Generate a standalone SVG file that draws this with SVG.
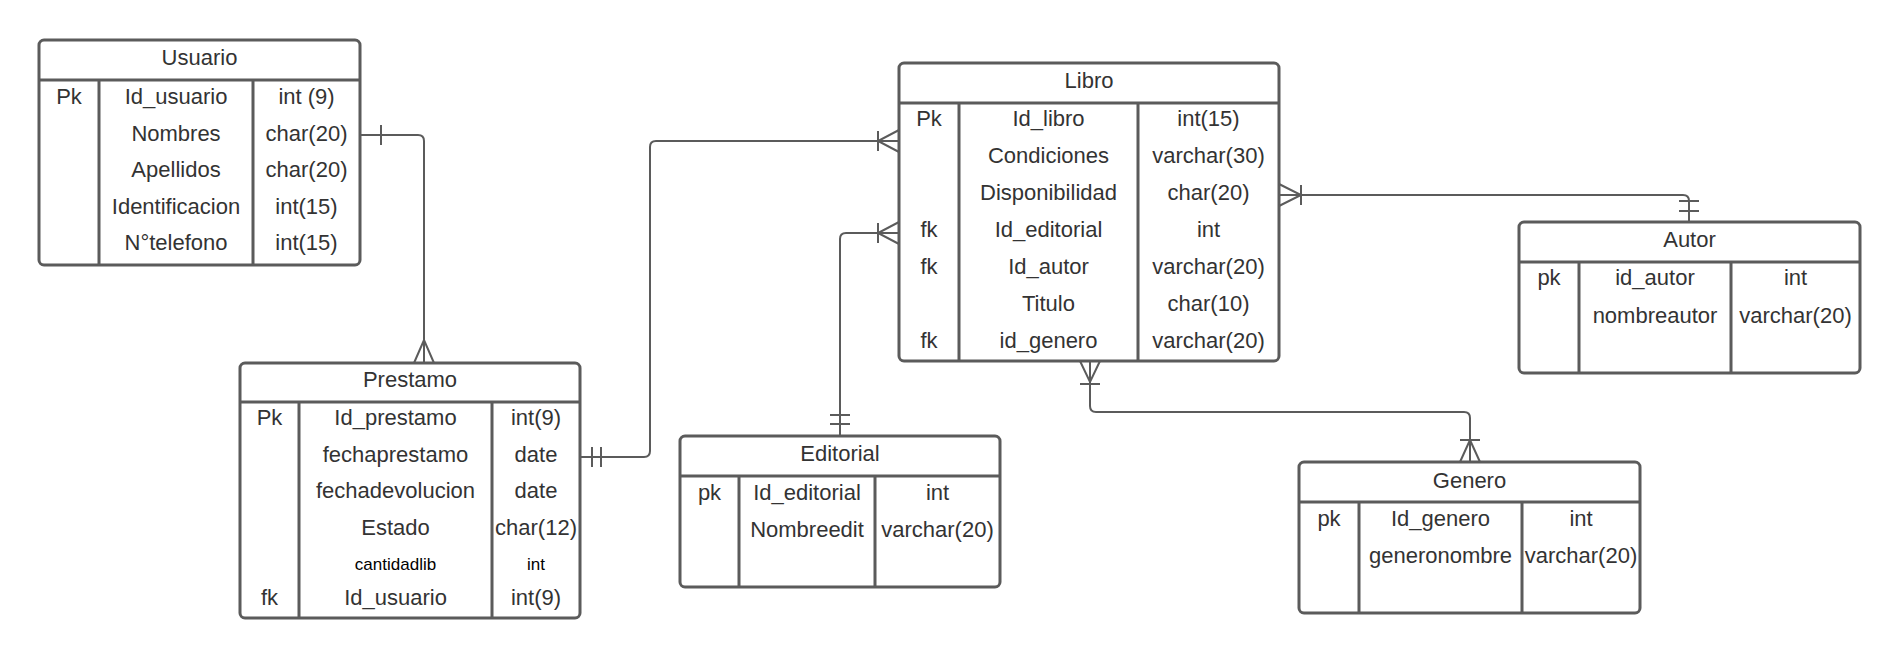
<svg xmlns="http://www.w3.org/2000/svg" width="1900" height="659" viewBox="0 0 1900 659">
<style>
.box{fill:#fff;stroke:#5b5b5b;stroke-width:3}
.ln{stroke:#5b5b5b;stroke-width:3;fill:none}
.t{font-family:"Liberation Sans",Arial,sans-serif;font-size:22px;fill:#333;text-anchor:middle}
.s{font-family:"Liberation Sans",Arial,sans-serif;font-size:17px;fill:#000;text-anchor:middle}
.c{fill:none;stroke:#5b5b5b;stroke-width:2}
</style>
<rect width="1900" height="659" fill="#fff"/>

<g id="usuario">
<rect class="box" x="39" y="40" width="321" height="225" rx="5"/>
<path class="ln" d="M39,80H360M99,80V265M253,80V265"/>
<text class="t" x="199.5" y="65">Usuario</text>
<text class="t" x="69" y="104">Pk</text>
<text class="t" x="176" y="104">Id_usuario</text>
<text class="t" x="306.5" y="104">int (9)</text>
<text class="t" x="176" y="140.5">Nombres</text>
<text class="t" x="306.5" y="140.5">char(20)</text>
<text class="t" x="176" y="177">Apellidos</text>
<text class="t" x="306.5" y="177">char(20)</text>
<text class="t" x="176" y="213.5">Identificacion</text>
<text class="t" x="306.5" y="213.5">int(15)</text>
<text class="t" x="176" y="250">N°telefono</text>
<text class="t" x="306.5" y="250">int(15)</text>
</g>

<g id="prestamo">
<rect class="box" x="240" y="363" width="340" height="255" rx="5"/>
<path class="ln" d="M240,402H580M299,402V618M492,402V618"/>
<text class="t" x="410" y="387">Prestamo</text>
<text class="t" x="269.5" y="425">Pk</text>
<text class="t" x="395.5" y="425">Id_prestamo</text>
<text class="t" x="536" y="425">int(9)</text>
<text class="t" x="395.5" y="461.7">fechaprestamo</text>
<text class="t" x="536" y="461.7">date</text>
<text class="t" x="395.5" y="498.3">fechadevolucion</text>
<text class="t" x="536" y="498.3">date</text>
<text class="t" x="395.5" y="535">Estado</text>
<text class="t" x="536" y="535">char(12)</text>
<text class="s" x="395.5" y="570">cantidadlib</text>
<text class="s" x="536" y="570">int</text>
<text class="t" x="269.5" y="605">fk</text>
<text class="t" x="395.5" y="605">Id_usuario</text>
<text class="t" x="536" y="605">int(9)</text>
</g>

<g id="editorial">
<rect class="box" x="680" y="436" width="320" height="151" rx="5"/>
<path class="ln" d="M680,476H1000M739,476V587M875,476V587"/>
<text class="t" x="840" y="461">Editorial</text>
<text class="t" x="709.5" y="500">pk</text>
<text class="t" x="807" y="500">Id_editorial</text>
<text class="t" x="937.5" y="500">int</text>
<text class="t" x="807" y="536.7">Nombreedit</text>
<text class="t" x="937.5" y="536.7">varchar(20)</text>
</g>

<g id="libro">
<rect class="box" x="899" y="63" width="380" height="298" rx="5"/>
<path class="ln" d="M899,103H1279M959,103V361M1138,103V361"/>
<text class="t" x="1089" y="88.3">Libro</text>
<text class="t" x="929" y="126">Pk</text>
<text class="t" x="1048.5" y="126">Id_libro</text>
<text class="t" x="1208.5" y="126">int(15)</text>
<text class="t" x="1048.5" y="163">Condiciones</text>
<text class="t" x="1208.5" y="163">varchar(30)</text>
<text class="t" x="1048.5" y="200">Disponibilidad</text>
<text class="t" x="1208.5" y="200">char(20)</text>
<text class="t" x="929" y="237">fk</text>
<text class="t" x="1048.5" y="237">Id_editorial</text>
<text class="t" x="1208.5" y="237">int</text>
<text class="t" x="929" y="274">fk</text>
<text class="t" x="1048.5" y="274">Id_autor</text>
<text class="t" x="1208.5" y="274">varchar(20)</text>
<text class="t" x="1048.5" y="311">Titulo</text>
<text class="t" x="1208.5" y="311">char(10)</text>
<text class="t" x="929" y="348">fk</text>
<text class="t" x="1048.5" y="348">id_genero</text>
<text class="t" x="1208.5" y="348">varchar(20)</text>
</g>

<g id="autor">
<rect class="box" x="1519" y="222" width="341" height="151" rx="5"/>
<path class="ln" d="M1519,262H1860M1579,262V373M1731,262V373"/>
<text class="t" x="1689.5" y="247">Autor</text>
<text class="t" x="1549" y="285">pk</text>
<text class="t" x="1655" y="285">id_autor</text>
<text class="t" x="1795.5" y="285">int</text>
<text class="t" x="1655" y="323">nombreautor</text>
<text class="t" x="1795.5" y="323">varchar(20)</text>
</g>

<g id="genero">
<rect class="box" x="1299" y="462" width="341" height="151" rx="5"/>
<path class="ln" d="M1299,502H1640M1359,502V613M1522,502V613"/>
<text class="t" x="1469.5" y="487.5">Genero</text>
<text class="t" x="1329" y="526">pk</text>
<text class="t" x="1440.5" y="526">Id_genero</text>
<text class="t" x="1581" y="526">int</text>
<text class="t" x="1440.5" y="562.7">generonombre</text>
<text class="t" x="1581" y="562.7">varchar(20)</text>
</g>

<g id="connectors">
<path class="c" d="M360,135H418Q424,135 424,141V363"/>
<path class="c" d="M381,125V145M414,363L424,340L434,363"/>
<path class="c" d="M580,457H644Q650,457 650,451V147Q650,141 656,141H899"/>
<path class="c" d="M592,447V467M601,447V467M899,130L878,141L899,152M878,131V151"/>
<path class="c" d="M840,436V239Q840,233 846,233H899"/>
<path class="c" d="M830,415H850M830,424H850M899,222L878,233L899,244M878,223V243"/>
<path class="c" d="M1279,195H1683Q1689,195 1689,201V222"/>
<path class="c" d="M1279,184L1301,195L1279,206M1301,185V205M1679,201H1699M1679,211H1699"/>
<path class="c" d="M1090,361V406Q1090,412 1096,412H1464Q1470,412 1470,418V462"/>
<path class="c" d="M1080,361L1090,382L1100,361M1080,384H1100M1460,462L1470,440L1480,462M1460,440H1480"/>
</g>
</svg>
